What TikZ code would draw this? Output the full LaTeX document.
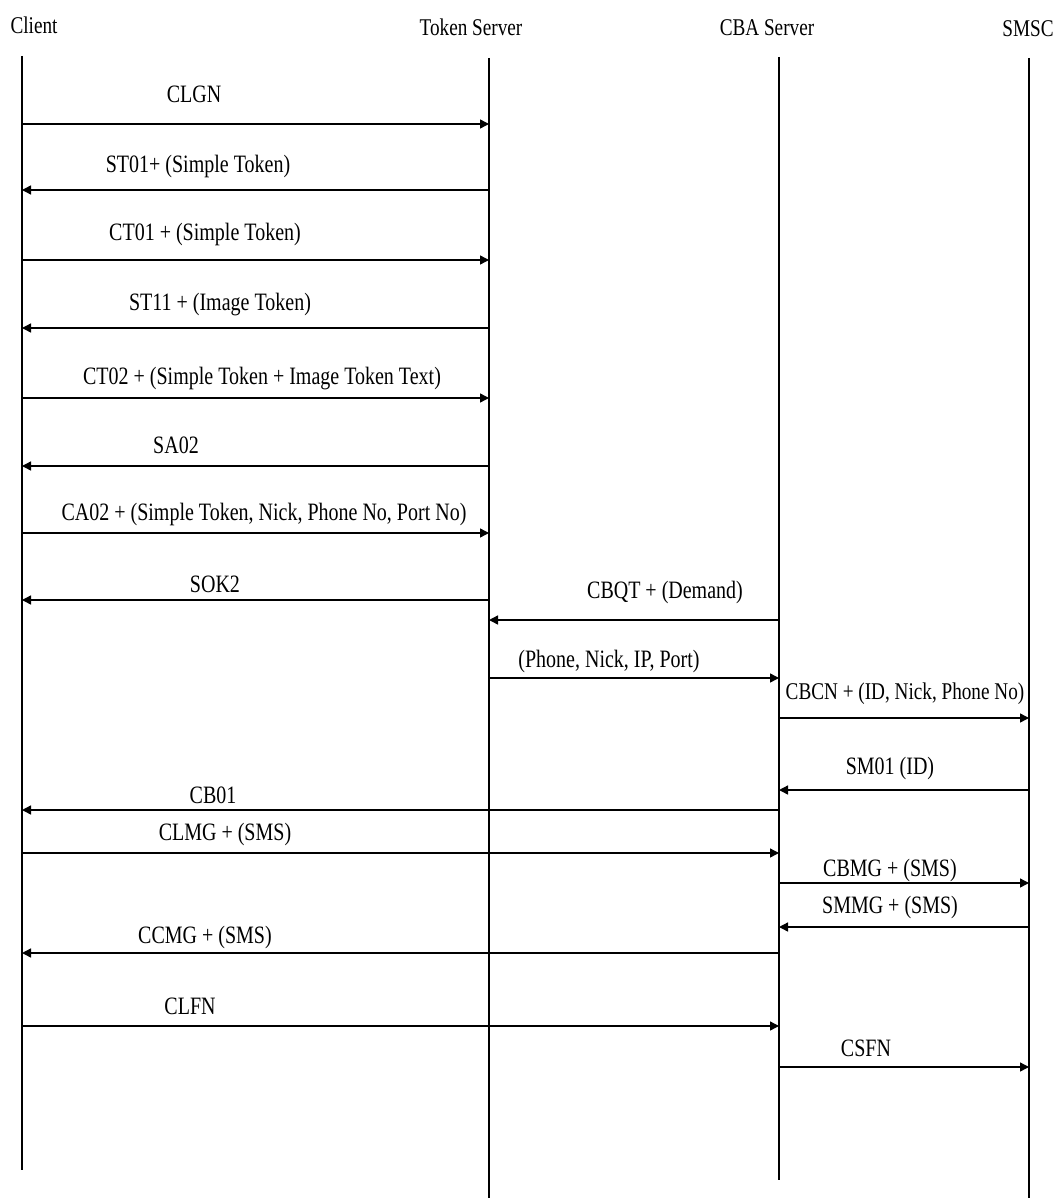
\documentclass[tikz,border=0pt]{standalone}
\usepackage{fontspec}
\setmainfont{Liberation Serif}[FakeStretch=0.8]
\usetikzlibrary{arrows.meta}
\newcommand\seqmsg[7]{%
  \coordinate (#1s) at (#2,#4);
  \coordinate (#1e) at (#3,#4);
  \draw[msgline] (#1s) -- (#1e);
  \node[lbl] (#1l) at (#5,#6) {#7};}
\begin{document}
\begin{tikzpicture}[x=1pt,y=-1pt,
  lifeline/.style={line width=1.3pt},
  msgline/.style={line width=1.4pt,-{Triangle[length=9pt,width=9pt]}},
  lbl/.style={font=\fontsize{25}{25}\selectfont,inner sep=0pt},
  head/.style={font=\fontsize{24}{24}\selectfont,inner sep=0pt}]
\useasboundingbox (0,0) rectangle (1062,1198);
% headers
\node[head] (hc) at (34,25) {Client};
\node[head] (ht) at (471,27) {Token Server};
\node[head] (hb) at (767,28) {CBA Server};
\node[head] (hs) at (1028,29) {SMSC};
% lifelines
\coordinate (ct) at (22,56); \coordinate (cb) at (22,1170);
\coordinate (tt) at (489,58); \coordinate (tb) at (489,1198);
\coordinate (bt) at (779,57); \coordinate (bb) at (779,1180);
\coordinate (st) at (1029,58); \coordinate (sb) at (1029,1198);
\draw[lifeline] (ct) -- (cb);
\draw[lifeline] (tt) -- (tb);
\draw[lifeline] (bt) -- (bb);
\draw[lifeline] (st) -- (sb);
% messages
\seqmsg{m1}{22}{489}{124}{194}{94}{CLGN}
\seqmsg{m2}{489}{22}{190}{198}{166}{ST01+ (Simple Token)}
\seqmsg{m3}{22}{489}{260}{205}{234}{CT01 + (Simple Token)}
\seqmsg{m4}{489}{22}{328}{220}{305}{ST11 + (Image Token)}
\seqmsg{m5}{22}{489}{398}{262}{379}{CT02 + (Simple Token + Image Token Text)}
\seqmsg{m6}{489}{22}{466}{176}{445}{SA02}
\seqmsg{m7}{22}{489}{533}{264}{514}{CA02 + (Simple Token, Nick, Phone No, Port No)}
\seqmsg{m8}{489}{22}{600}{215}{584}{SOK2}
\seqmsg{m9}{779}{489}{620}{665}{592}{CBQT + (Demand)}
\seqmsg{m10}{489}{779}{678}{609}{661}{(Phone, Nick, IP, Port)}
\seqmsg{m11}{779}{1029}{718}{905}{694}{\fontsize{24}{24}\selectfont CBCN + (ID, Nick, Phone No)}
\seqmsg{m12}{1029}{779}{790}{890}{768}{SM01 (ID)}
\seqmsg{m13}{779}{22}{810}{213}{795}{CB01}
\seqmsg{m14}{22}{779}{853}{225}{834}{CLMG + (SMS)}
\seqmsg{m15}{779}{1029}{883}{890}{870}{CBMG + (SMS)}
\seqmsg{m16}{1029}{779}{927}{890}{907}{SMMG + (SMS)}
\seqmsg{m17}{779}{22}{953}{205}{937}{CCMG + (SMS)}
\seqmsg{m18}{22}{779}{1026}{190}{1006}{CLFN}
\seqmsg{m19}{779}{1029}{1067}{866}{1048}{CSFN}
\end{tikzpicture}
\end{document}
